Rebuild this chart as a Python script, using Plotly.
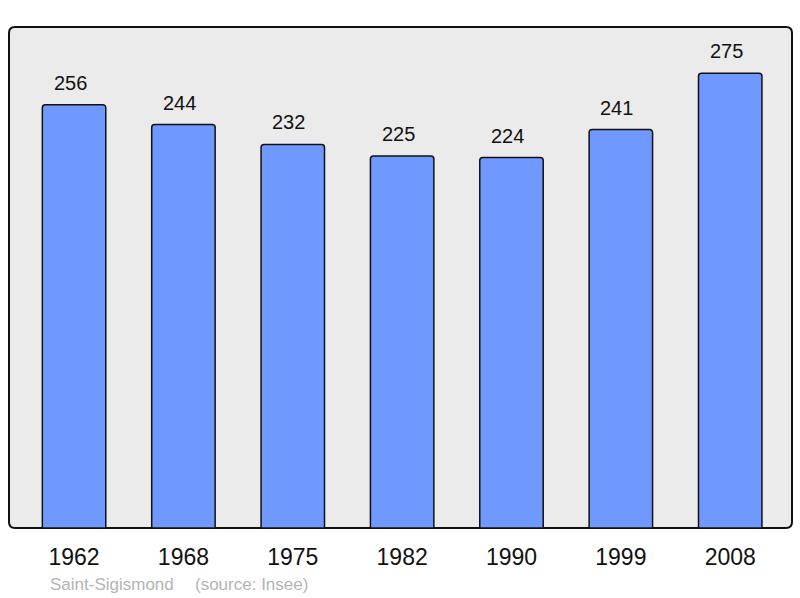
import plotly.graph_objects as go

years = ["1962", "1968", "1975", "1982", "1990", "1999", "2008"]
population = [256, 244, 232, 225, 224, 241, 275]

W, H = 800, 598
L, R, T, B = 9, 8, 27, 70
pw, ph = W - L - R, H - T - B

fig = go.Figure()
fig.add_trace(go.Bar(x=years,
                     y=population,
                     width=0.58,
                     marker=dict(color='#7099ff',
                                 line=dict(color='#111111', width=1.5),
                                 cornerradius=3),
                     hoverinfo='x+y'
                     ))

# value labels above each bar (slightly left of centre, as in the original)
annotations = []
for i, val in enumerate(population):
    annotations.append(dict(x=i, y=val, xref='x', yref='y',
                            text=str(val), showarrow=False,
                            yanchor='bottom', yshift=9, xshift=-4,
                            font=dict(size=20, color='#111111')))

# footer texts, placed in pixels relative to the plot area
for txt, px in [('Saint-Sigismond', 49), ('(source: Insee)', 194)]:
    annotations.append(dict(x=0, y=0, xref='paper', yref='paper',
                            text=txt, showarrow=False,
                            xanchor='left', yanchor='middle',
                            xshift=px - L - 1, yshift=-(584 - (H - B)),
                            font=dict(size=17, color='#b4b4b4')))

# rounded frame round the plot area
rx, ry = 6 / pw, 6 / ph
frame = (f"M {rx} 0 L {1 - rx} 0 Q 1 0 1 {ry} L 1 {1 - ry} Q 1 1 {1 - rx} 1 "
         f"L {rx} 1 Q 0 1 0 {1 - ry} L 0 {ry} Q 0 0 {rx} 0 Z")

fig.update_layout(width=W, height=H,
                  margin=dict(l=L, r=R, t=T, b=B),
                  paper_bgcolor='white',
                  plot_bgcolor='white',
                  font=dict(family='Liberation Sans, Arial, sans-serif'),
                  showlegend=False,
                  annotations=annotations,
                  xaxis=dict(type='category', range=[-0.595, 6.565],
                             showgrid=False, zeroline=False, showline=False,
                             ticks='outside', ticklen=8, tickcolor='rgba(0,0,0,0)',
                             tickfont=dict(size=23, color='#111111')),
                  yaxis=dict(range=[0, 303],
                             showgrid=False, zeroline=False, showline=False,
                             showticklabels=False),
                  shapes=[dict(type='path', xref='paper', yref='paper', path=frame,
                               fillcolor='#ebebeb', layer='below',
                               line=dict(color='#111111', width=2))]
                  )

fig.write_html("out.html", config={'displayModeBar': False},
               post_script="document.body.style.margin='0';")
